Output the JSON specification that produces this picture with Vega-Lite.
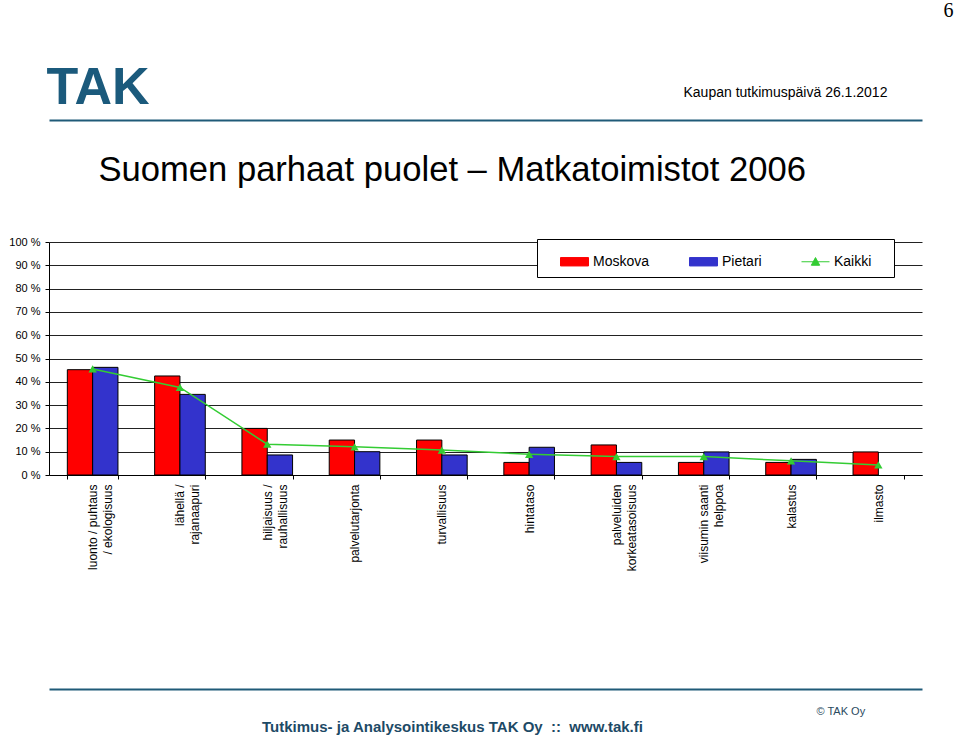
{
  "$schema": "https://vega.github.io/schema/vega-lite/v6.json",
  "width": 873,
  "height": 233,
  "autosize": {"type": "none"},
  "padding": {"left": 49, "top": 242, "right": 38, "bottom": 272},
  "background": "white",
  "config": {
    "font": "Liberation Sans",
    "view": {"stroke": null},
    "axis": {"titleFontWeight": "normal", "titleColor": "black"}
  },
  "data": {
    "values": [
      {"kohde": "luonto / puhtaus / ekologisuus", "sarja": "Moskova", "arvo": 45.2},
      {"kohde": "luonto / puhtaus / ekologisuus", "sarja": "Pietari", "arvo": 46.2},
      {"kohde": "luonto / puhtaus / ekologisuus", "sarja": "Kaikki", "arvo": 45.5},
      {"kohde": "lähellä / rajanaapuri", "sarja": "Moskova", "arvo": 42.5},
      {"kohde": "lähellä / rajanaapuri", "sarja": "Pietari", "arvo": 34.6},
      {"kohde": "lähellä / rajanaapuri", "sarja": "Kaikki", "arvo": 37.6},
      {"kohde": "hiljaisuus / rauhallisuus", "sarja": "Moskova", "arvo": 20.0},
      {"kohde": "hiljaisuus / rauhallisuus", "sarja": "Pietari", "arvo": 8.6},
      {"kohde": "hiljaisuus / rauhallisuus", "sarja": "Kaikki", "arvo": 13.2},
      {"kohde": "palvelutarjonta", "sarja": "Moskova", "arvo": 15.0},
      {"kohde": "palvelutarjonta", "sarja": "Pietari", "arvo": 10.0},
      {"kohde": "palvelutarjonta", "sarja": "Kaikki", "arvo": 12.1},
      {"kohde": "turvallisuus", "sarja": "Moskova", "arvo": 15.0},
      {"kohde": "turvallisuus", "sarja": "Pietari", "arvo": 8.6},
      {"kohde": "turvallisuus", "sarja": "Kaikki", "arvo": 10.7},
      {"kohde": "hintataso", "sarja": "Moskova", "arvo": 5.4},
      {"kohde": "hintataso", "sarja": "Pietari", "arvo": 11.9},
      {"kohde": "hintataso", "sarja": "Kaikki", "arvo": 8.9},
      {"kohde": "palveluiden korkeatasoisuus", "sarja": "Moskova", "arvo": 12.9},
      {"kohde": "palveluiden korkeatasoisuus", "sarja": "Pietari", "arvo": 5.4},
      {"kohde": "palveluiden korkeatasoisuus", "sarja": "Kaikki", "arvo": 7.9},
      {"kohde": "viisumin saanti helppoa", "sarja": "Moskova", "arvo": 5.4},
      {"kohde": "viisumin saanti helppoa", "sarja": "Pietari", "arvo": 9.9},
      {"kohde": "viisumin saanti helppoa", "sarja": "Kaikki", "arvo": 7.9},
      {"kohde": "kalastus", "sarja": "Moskova", "arvo": 5.4},
      {"kohde": "kalastus", "sarja": "Pietari", "arvo": 6.7},
      {"kohde": "kalastus", "sarja": "Kaikki", "arvo": 6.1},
      {"kohde": "ilmasto", "sarja": "Moskova", "arvo": 9.9},
      {"kohde": "ilmasto", "sarja": "Kaikki", "arvo": 4.3}
    ]
  },
  "resolve": {
    "scale": {"x": "shared", "y": "shared", "color": "shared"},
    "axis": {"x": "independent", "y": "independent"}
  },
  "layer": [
    {
      "transform": [{"filter": "datum.sarja !== 'Kaikki'"}],
      "mark": {"type": "bar", "stroke": "black", "strokeWidth": 1},
      "encoding": {
        "x": {
          "field": "kohde", "type": "nominal", "sort": null,
          "scale": {"paddingInner": 0.42, "paddingOuter": 0.21},
          "axis": {
            "orient": "bottom",
            "labelAngle": -90,
            "labelFontSize": 12,
            "labelLineHeight": 15,
            "labelColor": "black",
            "labelPadding": 5,
            "labelLimit": 300,
            "tickBand": "extent",
            "tickSize": 4,
            "tickColor": "black",
            "domainColor": "black",
            "grid": false,
            "labelExpr": "datum.value === 'luonto / puhtaus / ekologisuus' ? ['luonto / puhtaus', '/ ekologisuus'] : datum.value === 'lähellä / rajanaapuri' ? ['lähellä /', 'rajanaapuri'] : datum.value === 'hiljaisuus / rauhallisuus' ? ['hiljaisuus /', 'rauhallisuus'] : datum.value === 'palveluiden korkeatasoisuus' ? ['palveluiden', 'korkeatasoisuus'] : datum.value === 'viisumin saanti helppoa' ? ['viisumin saanti', 'helppoa'] : datum.value",
            "title": "Tutkimus- ja Analysointikeskus TAK Oy \u00a0::\u00a0 www.tak.fi",
            "titleFontSize": 15,
            "titleFontWeight": "bold",
            "titleColor": "#1d4a66",
            "titleAlign": "center",
            "titleBaseline": "alphabetic",
            "titleX": 403,
            "titleY": 256
          }
        },
        "xOffset": {"field": "sarja", "type": "nominal", "scale": {"domain": ["Moskova", "Pietari"], "paddingInner": 0, "paddingOuter": 0}},
        "y": {
          "field": "arvo", "type": "quantitative",
          "scale": {"domain": [0, 100], "nice": false},
          "axis": {
            "orient": "left",
            "values": [0, 10, 20, 30, 40, 50, 60, 70, 80, 90, 100],
            "labelExpr": "datum.value + ' %'",
            "labelFontSize": 11,
            "labelColor": "black",
            "labelPadding": 5,
            "tickSize": 4,
            "tickColor": "black",
            "domainColor": "black",
            "grid": true,
            "gridColor": "#222222",
            "gridWidth": 1,
            "title": "Kaupan tutkimuspäivä 26.1.2012",
            "titleFontSize": 14,
            "titleAngle": 0,
            "titleAlign": "left",
            "titleBaseline": "alphabetic",
            "titleX": 634,
            "titleY": -146
          }
        },
        "color": {
          "field": "sarja", "type": "nominal",
          "scale": {"domain": ["Moskova", "Pietari", "Kaikki"], "range": ["#ff0000", "#3333cc", "#33cc33"]},
          "legend": {
            "title": null,
            "orient": "none",
            "legendX": 488,
            "legendY": -3,
            "direction": "horizontal",
            "fillColor": "white",
            "strokeColor": "black",
            "padding": 8,
            "symbolSize": 784,
            "symbolOffset": 15,
            "labelOffset": 4,
            "columnPadding": 24,
            "labelFontSize": 14,
            "labelColor": "black",
            "labelExpr": "datum.label === 'Kaikki' ? 'Kaikki\u00a0\u2800' : datum.label",
            "encode": {
              "symbols": {
                "update": {
                  "shape": {"signal": "datum.value === 'Kaikki' ? 'M-1,0H1M0,-0.3L0.3,0.25H-0.3Z' : 'M-1,-0.3H1V0.3H-1Z'"},
                  "stroke": {"signal": "datum.value === 'Kaikki' ? '#33cc33' : 'black'"},
                  "fill": {"signal": "datum.value === 'Moskova' ? '#ff0000' : datum.value === 'Pietari' ? '#3333cc' : '#33cc33'"},
                  "strokeWidth": {"value": 1},
                  "opacity": {"value": 1},
                  "fillOpacity": {"value": 1}
                }
              }
            }
          }
        }
      }
    },
    {
      "transform": [{"filter": "datum.sarja === 'Kaikki'"}],
      "mark": {"type": "line", "strokeWidth": 1.5},
      "encoding": {
        "x": {
          "field": "kohde", "type": "nominal", "sort": null,
          "axis": {
            "orient": "top",
            "offset": 122,
            "labels": false,
            "ticks": false,
            "grid": false,
            "domainColor": "#1f5a78",
            "domainWidth": 2,
            "title": "Suomen parhaat puolet – Matkatoimistot 2006",
            "titleFontSize": 34.6,
            "titleAlign": "left",
            "titleBaseline": "alphabetic",
            "titleX": 49,
            "titleY": 60
          }
        },
        "y": {
          "field": "arvo", "type": "quantitative",
          "axis": {
            "orient": "right",
            "labels": false,
            "ticks": false,
            "grid": false,
            "domain": false,
            "title": "© TAK Oy",
            "titleFontSize": 11,
            "titleColor": "#2a4a5e",
            "titleAngle": 0,
            "titleAlign": "left",
            "titleBaseline": "alphabetic",
            "titleX": -106,
            "titleY": 472
          }
        },
        "color": {
          "field": "sarja", "type": "nominal",
          "legend": {
            "title": null,
            "orient": "none",
            "legendX": 488,
            "legendY": -3,
            "direction": "horizontal",
            "fillColor": "white",
            "strokeColor": "black",
            "padding": 8,
            "symbolSize": 784,
            "symbolOffset": 15,
            "labelOffset": 4,
            "columnPadding": 24,
            "labelFontSize": 14,
            "labelColor": "black",
            "labelExpr": "datum.label === 'Kaikki' ? 'Kaikki\u00a0\u2800' : datum.label",
            "encode": {
              "symbols": {
                "update": {
                  "shape": {"signal": "datum.value === 'Kaikki' ? 'M-1,0H1M0,-0.3L0.3,0.25H-0.3Z' : 'M-1,-0.3H1V0.3H-1Z'"},
                  "stroke": {"signal": "datum.value === 'Kaikki' ? '#33cc33' : 'black'"},
                  "fill": {"signal": "datum.value === 'Moskova' ? '#ff0000' : datum.value === 'Pietari' ? '#3333cc' : '#33cc33'"},
                  "strokeWidth": {"value": 1},
                  "opacity": {"value": 1},
                  "fillOpacity": {"value": 1}
                }
              }
            }
          }
        }
      }
    },
    {
      "transform": [{"filter": "datum.sarja === 'Kaikki'"}],
      "mark": {"type": "point", "shape": "triangle-up", "filled": true, "size": 70, "color": "#33cc33", "opacity": 1},
      "encoding": {
        "x": {
          "field": "kohde", "type": "nominal", "sort": null,
          "axis": {
            "orient": "bottom",
            "offset": 214,
            "labels": false,
            "ticks": false,
            "grid": false,
            "domainColor": "#1f5a78",
            "domainWidth": 2,
            "title": "6",
            "titleFont": "Liberation Serif",
            "titleFontSize": 20,
            "titleAlign": "center",
            "titleBaseline": "alphabetic",
            "titleX": 899,
            "titleY": -673
          }
        },
        "y": {
          "field": "arvo", "type": "quantitative",
          "axis": {
            "orient": "left",
            "labels": false,
            "ticks": false,
            "grid": false,
            "domain": false,
            "title": "TAK",
            "titleFontSize": 52,
            "titleFontWeight": "bold",
            "titleColor": "#1b5a7c",
            "titleAngle": 0,
            "titleAlign": "left",
            "titleBaseline": "alphabetic",
            "titleX": -3,
            "titleY": -139
          }
        }
      }
    }
  ]
}
